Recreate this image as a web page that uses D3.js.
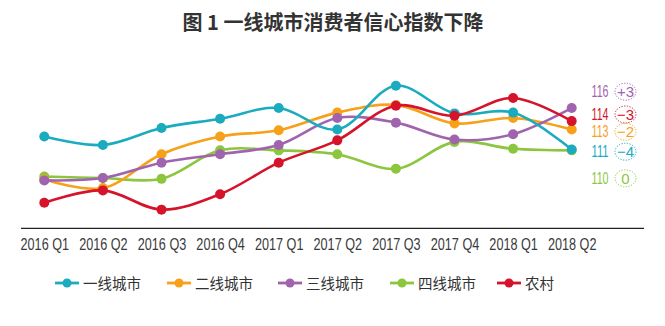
<!DOCTYPE html>
<html><head><meta charset="utf-8">
<script src="https://cdn.jsdelivr.net/npm/d3@7"></script>
<style>
body{margin:0;background:#fff;}
svg{display:block;font-family:"Liberation Sans",Arial,sans-serif;}
</style></head>
<body><svg id="c" width="665" height="326"></svg>
<script>
const title = "图 1 一线城市消费者信心指数下降";
const quarters = ["2016 Q1","2016 Q2","2016 Q3","2016 Q4","2017 Q1","2017 Q2","2017 Q3","2017 Q4","2018 Q1","2018 Q2"];
const seriesNames = ["一线城市","二线城市","三线城市","四线城市","农村"];
const tier1 = [112.3,111.2,113.4,114.6,116.0,113.2,118.9,115.3,115.4,110.6];
const tier2 = [106.7,105.6,110.0,112.3,113.1,115.4,116.4,114.0,114.7,113.2];
const tier3 = [106.6,106.9,108.9,110.0,111.2,114.7,114.1,111.9,112.6,116.0];
const tier4 = [107.1,106.9,106.8,110.5,110.5,110.0,108.1,111.6,110.7,110.5];
const rural = [103.7,105.3,102.8,104.8,108.9,111.8,116.3,115.0,117.3,114.3];
const endLabels = ["111","113","116","110","114"];
const endChanges = ["-4","-2","+3","0","-3"];

const colors = ["#1aabbf","#f7a11a","#a064ae","#8cc63f","#d5132b"];
const labelY = [151.7,131.7,91.7,178.3,114.5];
const series = [tier1,tier2,tier3,tier4,rural];

const svg = d3.select("#c");
svg.append("text").attr("x",333).attr("y",30).attr("text-anchor","middle")
  .attr("font-family","'Noto Sans CJK SC',sans-serif").attr("font-weight","bold")
  .attr("font-size",20).attr("fill","#333").text(title);

const x = d3.scalePoint().domain(quarters).range([44.3,571.7]);
const y = d3.scaleLinear().domain([100,120]).range([231.2,77.2]);

svg.append("line").attr("x1",21).attr("x2",644).attr("y1",228.3).attr("y2",228.3)
  .attr("stroke","#222").attr("stroke-width",1.2);

const ax = svg.append("g").attr("transform","translate(0,228.3)")
  .call(d3.axisBottom(x).tickSize(0).tickPadding(0));
ax.select(".domain").remove();
ax.selectAll("text").attr("dy",null).attr("y",21.5).attr("font-size",16).attr("fill","#3a3a3a")
  .attr("font-family","'Liberation Sans',Arial,sans-serif")
  .attr("textLength",48.5).attr("lengthAdjust","spacingAndGlyphs");

const line = d3.line().x((d,i)=>x(quarters[i])).y(d=>y(d)).curve(d3.curveCatmullRom.alpha(0.5));
const order = [3,1,2,0,4];
order.forEach(k=>{
  const g = svg.append("g");
  g.append("path").datum(series[k]).attr("d",line).attr("fill","none")
    .attr("stroke",colors[k]).attr("stroke-width",2.6);
  g.selectAll("circle").data(series[k]).join("circle")
    .attr("cx",(d,i)=>x(quarters[i])).attr("cy",d=>y(d)).attr("r",5).attr("fill",colors[k]);
});

// end labels
series.forEach((s,k)=>{
  const ly = labelY[k];
  svg.append("text").attr("x",608.5).attr("y",ly+5.5).attr("text-anchor","end")
    .attr("font-size",16).attr("textLength",17).attr("lengthAdjust","spacingAndGlyphs")
    .attr("fill",colors[k]).text(endLabels[k]);
  svg.append("ellipse").attr("cx",625.5).attr("cy",ly).attr("rx",10.5).attr("ry",8.5)
    .attr("fill","none").attr("stroke",colors[k]).attr("stroke-width",1).attr("stroke-dasharray","1.2,1.5");
  svg.append("text").attr("x",625.5).attr("y",ly+5.5).attr("text-anchor","middle")
    .attr("font-size",15).attr("fill",colors[k]).text(endChanges[k].replace("-","\u2212"));
});

// legend
const lx = [55,167,278,390,497];
seriesNames.forEach((n,k)=>{
  const g = svg.append("g").attr("transform",`translate(${lx[k]},283)`);
  g.append("line").attr("x1",0).attr("x2",24).attr("stroke",colors[k]).attr("stroke-width",2.8);
  g.append("circle").attr("cx",12).attr("r",4.5).attr("fill",colors[k]);
  g.append("text").attr("x",28).attr("y",5.5).attr("font-size",14.5)
    .attr("font-family","'Noto Sans CJK SC',sans-serif").attr("fill","#333").text(n);
});
</script></body></html>
